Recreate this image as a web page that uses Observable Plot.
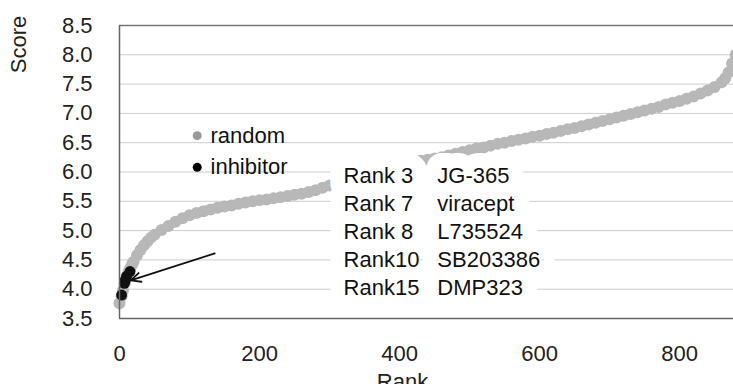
<!DOCTYPE html>
<html>
<head>
<meta charset="utf-8">
<script src="https://cdn.jsdelivr.net/npm/d3@7"></script>
<script src="https://cdn.jsdelivr.net/npm/@observablehq/plot@0.6"></script>
<style>
  html, body { margin: 0; padding: 0; background: #fff; }
</style>
</head>
<body>
<div id="chart"></div>
<script>
// ---- data ----
const randomRank = [0, 3, 5, 8, 10, 13, 15, 18, 20, 25, 30, 35, 40, 45, 50, 60, 70, 80, 90, 100,
  110, 120, 130, 140, 150, 160, 170, 180, 190, 200, 210, 220, 230, 240, 250, 260, 270, 280, 290, 300,
  310, 320, 330, 340, 350, 360, 370, 380, 390, 400, 410, 420, 430, 440, 450, 460, 470, 480, 490, 500,
  510, 520, 530, 540, 550, 560, 570, 580, 590, 600, 610, 620, 630, 640, 650, 660, 670, 680, 690, 700,
  710, 720, 730, 740, 750, 760, 770, 780, 790, 800, 810, 820, 830, 840, 850, 860, 865, 870, 875, 880];
const randomScore = [3.76, 3.88, 3.98, 4.12, 4.2, 4.3, 4.35, 4.42, 4.47, 4.58, 4.67, 4.75, 4.82, 4.88, 4.93, 5.01, 5.08, 5.15, 5.21, 5.26,
  5.3, 5.33, 5.36, 5.39, 5.41, 5.43, 5.46, 5.48, 5.5, 5.52, 5.53, 5.55, 5.57, 5.59, 5.61, 5.63, 5.66, 5.69, 5.73, 5.77,
  5.81, 5.85, 5.89, 5.93, 5.97, 6.0, 6.03, 6.06, 6.09, 6.12, 6.14, 6.17, 6.19, 6.21, 6.23, 6.25, 6.28, 6.31, 6.34, 6.37,
  6.4, 6.42, 6.45, 6.48, 6.5, 6.53, 6.55, 6.57, 6.6, 6.62, 6.65, 6.67, 6.7, 6.73, 6.75, 6.78, 6.81, 6.84, 6.87, 6.9,
  6.93, 6.96, 6.99, 7.02, 7.05, 7.08, 7.11, 7.15, 7.18, 7.21, 7.25, 7.29, 7.34, 7.39, 7.45, 7.53, 7.6, 7.7, 7.85, 8.0];
const inhibitorRank = [3, 7, 8, 10, 15];
const inhibitorScore = [3.9, 4.1, 4.15, 4.22, 4.3];
const rankLabels = ["Rank 3", "Rank 7", "Rank 8", "Rank10", "Rank15"];
const drugNames = ["JG-365", "viracept", "L735524", "SB203386", "DMP323"];
const seriesNames = ["random", "inhibitor"];
const xTicks = [0, 200, 400, 600, 800];
const yTicks = [3.5, 4.0, 4.5, 5.0, 5.5, 6.0, 6.5, 7.0, 7.5, 8.0, 8.5];
const xDomain = [0, 877];
const yDomain = [3.5, 8.5];
// annotation anchors (data units)
const arrowFrom = {rank: 136, score: 4.61};
const arrowTo = {rank: 16, score: 4.15};
const legendAt = {rank: 111, scores: [6.62, 6.08], textRank: 130};
const noteAt = {rank: 320, nameRank: 454, score: 6.15};

const randomData = randomRank.map((r, i) => ({rank: r, score: randomScore[i]}));
const inhibitorData = inhibitorRank.map((r, i) => ({rank: r, score: inhibitorScore[i]}));
const legendData = seriesNames.map((s, i) => ({name: s, rank: legendAt.rank, score: legendAt.scores[i]}));
const noteData = [
  {rank: noteAt.rank, text: rankLabels.join("\n")},
  {rank: noteAt.nameRank, text: drugNames.join("\n")}
];

const FONT = "Liberation Sans, Arial, sans-serif";
const noteBase = {x: "rank", y: () => noteAt.score, text: "text", textAnchor: "start", lineAnchor: "top", lineHeight: 1.27, fontSize: 22};
const chart = Plot.plot({
  width: 733,
  height: 384,
  marginLeft: 119,
  marginRight: 0,
  marginTop: 25,
  marginBottom: 66,
  style: {fontFamily: FONT, fontSize: "21px", color: "#222", background: "#fff"},
  x: {domain: xDomain, ticks: xTicks},
  y: {domain: yDomain, ticks: yTicks},
  marks: [
    Plot.axisX({ticks: xTicks, tickSize: 0, tickPadding: 27, label: null, fontSize: 22}),
    Plot.axisY({ticks: yTicks, tickSize: 0, tickPadding: 27, tickFormat: d3.format(".1f"), label: null, fontSize: 22}),
    Plot.tickY(yTicks.slice(1, -1), {y: d => d, x1: xDomain[0], x2: 6, stroke: "#ccc"}),
    Plot.dot(randomData, {x: "rank", y: "score", r: 6, fill: "#b8b8b8", stroke: null}),
    Plot.dot(inhibitorData, {x: "rank", y: "score", r: 5.5, fill: "#111", stroke: null}),
    Plot.ruleY([yDomain[1]], {stroke: "#777", strokeWidth: 1.5}),
    Plot.ruleY([yDomain[0]], {stroke: "#666", strokeWidth: 1.5}),
    Plot.ruleX([xDomain[0]], {stroke: "#666", strokeWidth: 1.5}),
    Plot.arrow([0], {x1: () => arrowFrom.rank, y1: () => arrowFrom.score, x2: () => arrowTo.rank, y2: () => arrowTo.score,
      stroke: "#111", strokeWidth: 1.8, headLength: 9, headAngle: 50}),
    // legend
    Plot.dot(legendData, {x: "rank", y: "score", r: 4.5, fill: (d, i) => i === 0 ? "#999" : "#000", stroke: null}),
    Plot.text(legendData, {x: () => legendAt.textRank, y: "score", text: "name", textAnchor: "start", fontSize: 22, fill: "#111"}),
    // annotation block: white halo pass, then text pass
    Plot.text(noteData, {...noteBase, fill: "white", stroke: "white", strokeWidth: 30, strokeLinejoin: "round"}),
    Plot.text(noteData, {...noteBase, fill: "#111"}),
    // axis titles
    Plot.text(["Score"], {frameAnchor: "top-left", dx: -101, dy: 19, rotate: -90, textAnchor: "middle", lineAnchor: "middle", fontSize: 22, fill: "#222"}),
    Plot.text(["Rank"], {frameAnchor: "bottom", dx: -24, dy: 55, textAnchor: "middle", lineAnchor: "top", fontSize: 22, fill: "#222"})
  ]
});
document.getElementById("chart").appendChild(chart);
</script>
</body>
</html>
